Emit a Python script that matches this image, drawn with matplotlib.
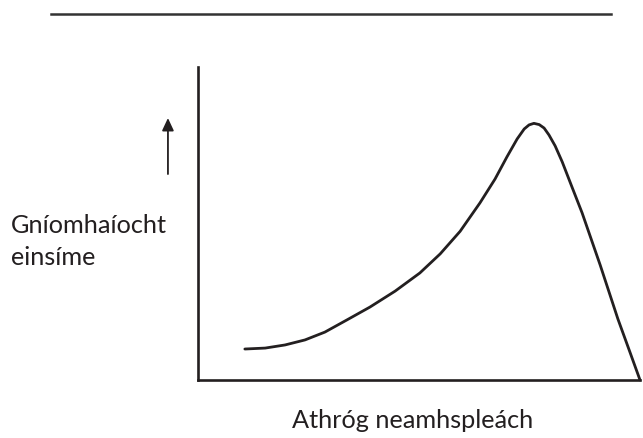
import matplotlib.pyplot as plt
from matplotlib.lines import Line2D

plt.rcParams['font.family'] = ['Lato', 'DejaVu Sans']

# curve (axis units 0-100)
x_vals = [10.6, 15.2, 19.7, 24.2, 28.7, 33.7, 38.9, 44.6, 50.2, 54.8, 59.3,
          63.8, 67.2, 69.9, 72.2, 73.8, 74.9, 76.0, 77.2, 78.3, 79.4, 80.8,
          82.4, 84.6, 86.9, 91.0, 95.0, 97.7, 100.0]
y_vals = [9.9, 10.2, 11.2, 12.8, 15.3, 19.2, 23.3, 28.4, 34.2, 40.3, 47.5,
          56.6, 64.2, 71.3, 77.0, 80.2, 81.5, 82.0, 81.6, 80.5, 78.3, 74.8,
          69.7, 61.7, 53.4, 36.7, 19.5, 9.0, 0.0]

y_text = ["Gníomhaíocht", "einsíme"]
x_text = "Athróg neamhspleách"

ink = '#231f20'

fig = plt.figure(figsize=(6.43, 4.39), dpi=100)
ax = fig.add_axes([198/643, 58/439, 442/643, 313/439])
ax.plot(x_vals, y_vals, color=ink, lw=2.0, clip_on=False,
        solid_capstyle='round', solid_joinstyle='round')
ax.set_xlim(0, 100)
ax.set_ylim(0, 100)
ax.spines['top'].set_visible(False)
ax.spines['right'].set_visible(False)
for s in ['left', 'bottom']:
    ax.spines[s].set_linewidth(1.9)
    ax.spines[s].set_color(ink)
ax.set_xticks([])
ax.set_yticks([])

# arrow pointing up, left of the y axis
ax.annotate('', xy=(-6.8, 83.7), xytext=(-6.8, 65.8), annotation_clip=False,
            arrowprops=dict(arrowstyle='-|>,head_length=0.75,head_width=0.35',
                            color=ink, lw=1.3, shrinkA=0, shrinkB=0))

# rule at the top of the figure
fig.add_artist(Line2D([51/643, 611/643], [1 - 15/439, 1 - 15/439],
                      color='#333333', lw=1.8))

fig.text(11/643, 1 - 233/439, y_text[0], fontsize=18.2, color=ink, va='baseline')
fig.text(11/643, 1 - 265/439, y_text[1], fontsize=18.2, color=ink, va='baseline')
fig.text(413/643, 1 - 428/439, x_text, fontsize=18.2, color=ink,
         ha='center', va='baseline')

fig.savefig('out.png', dpi=100)
